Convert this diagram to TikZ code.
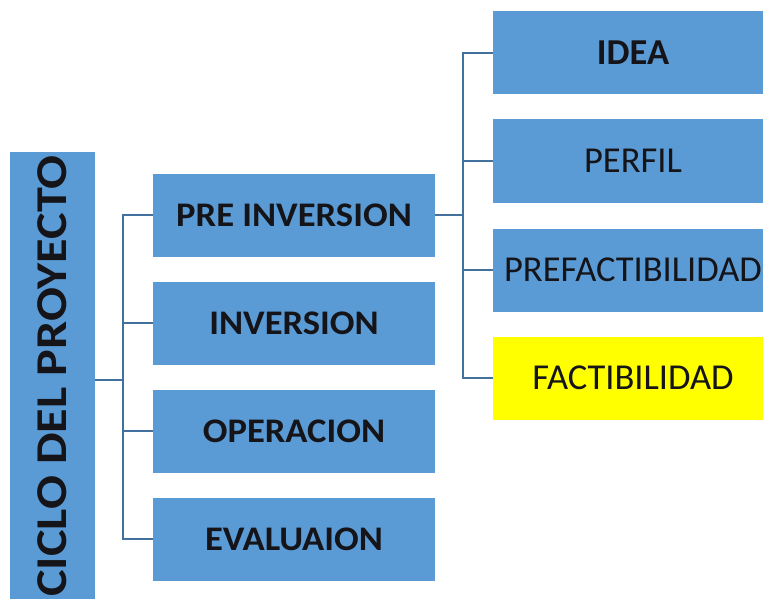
\documentclass[tikz,border=0pt]{standalone}
\usepackage{fontspec}
\setmainfont{Carlito}
\newfontfamily\boxfont[FakeStretch=1.06]{Carlito}
\newfontfamily\rootfont[FakeStretch=1.14]{Carlito}
\usetikzlibrary{positioning}
\definecolor{cicloblue}{RGB}{91, 155, 213}
\definecolor{cicloline}{RGB}{65, 113, 156}
\definecolor{cicloyellow}{RGB}{255, 255, 0}
\definecolor{ciclotext}{RGB}{20, 20, 25}

\begin{document}
\begin{tikzpicture}[x=1pt, y=-1pt,
  box/.style={rectangle, fill=cicloblue, inner sep=0pt,
              minimum width=282pt, minimum height=83pt,
              text=ciclotext, font=\boxfont\fontsize{34.5}{38}\selectfont\bfseries},
  subbox/.style={box, minimum width=280pt, font=\fontsize{36.5}{40}\selectfont},
  link/.style={draw=cicloline, line width=1.6pt}
]
  \clip (0,0) rectangle (763,599);

  % Root - vertical bar
  \node[rectangle, fill=cicloblue, minimum width=456pt, minimum height=85pt,
        rotate=90, inner sep=0pt, text=ciclotext,
        font=\rootfont\fontsize{44}{48}\selectfont\bfseries]
        (root) at (52.5,380) {};
  \node[rotate=90, inner sep=0pt, text=ciclotext,
        font=\rootfont\fontsize{44}{48}\selectfont\bfseries]
        (rootlabel) at (52.5,376) {CICLO DEL PROYECTO};

  % Stages
  \node[box] (preinv) at (294,215) {PRE INVERSION};
  \node[box] (inv)    at (294,323) {INVERSION};
  \node[box] (oper)   at (294,431) {OPERACION};
  \node[box] (eval)   at (294,539) {EVALUAION};

  % Pre-investment studies
  \node[subbox, font=\fontsize{36.5}{40}\selectfont\bfseries] (idea) at (633,53) {IDEA};
  \node[subbox] (perfil)  at (633,161) {PERFIL};
  \node[subbox] (prefact) at (633,270) {PREFACTIBILIDAD};
  \node[subbox, fill=cicloyellow] (fact) at (633,378) {FACTIBILIDAD};

  % Connectors
  \coordinate (trunkA) at (123,380);
  \draw[link] (root.south) -- (trunkA);
  \foreach \n in {preinv, inv, oper, eval}
    \draw[link] (trunkA) |- (\n.west);

  \coordinate (trunkB) at (463,215);
  \draw[link] (preinv.east) -- (trunkB);
  \foreach \n in {idea, perfil, prefact, fact}
    \draw[link] (trunkB) |- (\n.west);
\end{tikzpicture}
\end{document}
